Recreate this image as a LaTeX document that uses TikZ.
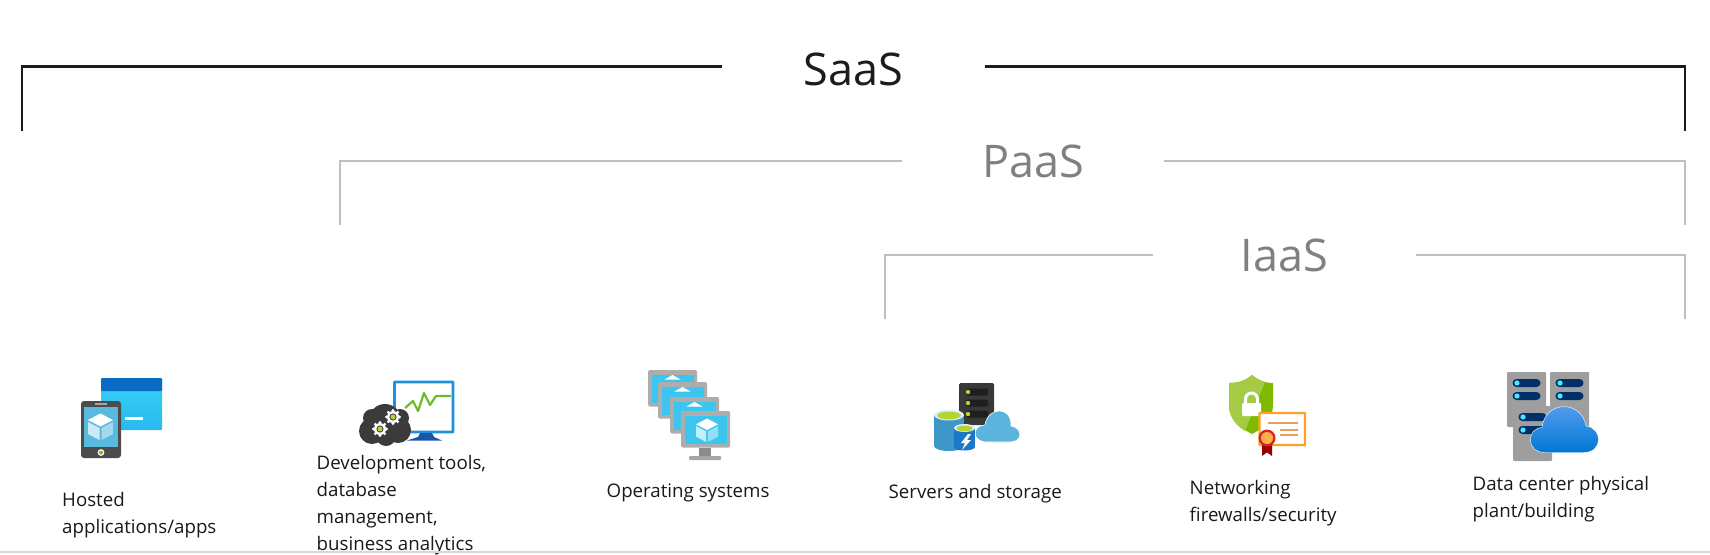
\documentclass[tikz,border=0pt]{standalone}
\usepackage{fontspec}
\setmainfont{Open Sans}
\definecolor{saasline}{HTML}{1C1C1C}
\definecolor{otherline}{HTML}{BFBFBF}
\definecolor{headtext}{HTML}{808080}
\definecolor{skyblue}{HTML}{3CC6EF}
\definecolor{windowtop}{HTML}{32D4F5}
\definecolor{windowlow}{HTML}{2BB8F0}
\definecolor{windowhead}{HTML}{0A6CC4}
\definecolor{phonescreen}{HTML}{5AB9DE}
\definecolor{leafgreen}{HTML}{B4D334}
\definecolor{navybar}{HTML}{003067}
\definecolor{monitorblue}{HTML}{1E90DC}
\definecolor{standblue}{HTML}{1B55A5}
\definecolor{pulsegreen}{HTML}{6CBB2A}
\definecolor{cloudlight}{HTML}{5AB4DC}
\definecolor{bigcyl}{HTML}{3D97C9}
\definecolor{smallcyl}{HTML}{1B78C8}
\definecolor{shielddark}{HTML}{7FBA00}
\definecolor{shieldlight}{HTML}{A5CB45}
\definecolor{certorange}{HTML}{FFA029}
\definecolor{certline}{HTML}{E8A060}
\definecolor{dotcyan}{HTML}{50E6FF}
\definecolor{cloudtop}{HTML}{5EA0EF}
\definecolor{cloudlow}{HTML}{0078D4}
\tikzset{
  tierlabel/.style={minimum height=40pt,inner sep=0pt,font=\fontsize{45}{50}\selectfont,text=headtext},
  itemlabel/.style={anchor=base west,inner sep=0pt,align=left,font=\fontsize{18.7}{27}\selectfont,text=black!90},
  tierline/.style={line width=2.4pt,color=otherline}
}
\newcommand{\cubeglyph}[3]{%
  \begin{scope}[shift={(#1,#2)},scale=#3]
    \fill[white] (0,-13) -- (12.5,-6.5) -- (0,0) -- (-12.5,-6.5) -- cycle;
    \fill[white,opacity=.7] (-12.5,-4.5) -- (-1,1.5) -- (-1,13.5) -- (-12.5,7.5) -- cycle;
    \fill[white,opacity=.45] (12.5,-4.5) -- (1,1.5) -- (1,13.5) -- (12.5,7.5) -- cycle;
  \end{scope}}
\begin{document}
\begin{tikzpicture}[x=1pt,y=-1pt]
  \useasboundingbox (0,0) rectangle (1710,554);
  % tiers
  \node[tierlabel,minimum width=263pt,text=saasline,text height=38pt,text depth=0pt] (saas) at (853.5,66.5) {SaaS};
  \node[tierlabel,minimum width=262pt] (paas) at (1033,161) {PaaS};
  \node[tierlabel,minimum width=263pt] (iaas) at (1284.5,255) {IaaS};
  \coordinate (saasleft) at (22,131);
  \coordinate (saasright) at (1685,131);
  \coordinate (paasleft) at (340,225);
  \coordinate (paasright) at (1685,225);
  \coordinate (iaasleft) at (885,319);
  \coordinate (iaasright) at (1685,319);
  \draw[tierline,color=saasline] (saasleft) |- (saas);
  \draw[tierline,color=saasline] (saasright) |- (saas);
  \draw[tierline] (paasleft) |- (paas);
  \draw[tierline] (paasright) |- (paas);
  \draw[tierline] (iaasleft) |- (iaas);
  \draw[tierline] (iaasright) |- (iaas);
  % labels
  \node[itemlabel] (hosted) at (62,533) {Hosted\\applications/apps};
  \node[itemlabel] (devtools) at (316.5,550) {Development tools,\\database\\management,\\business analytics};
  \node[itemlabel] (opsys) at (606.5,497) {Operating systems};
  \node[itemlabel] (servers) at (888.5,498) {Servers and storage};
  \node[itemlabel] (network) at (1189.5,521) {Networking\\firewalls/security};
  \node[itemlabel] (datacenter) at (1472.5,517) {Data center physical\\plant/building};
  \coordinate (ruleleft) at (0,552);
  \coordinate (ruleright) at (1710,552);
  \draw[line width=1.2pt,color=black!16] (ruleleft) -- (ruleright);
  % apps icon
  \shade[top color=windowtop,bottom color=windowlow,rounded corners=1pt] (101,378) rectangle (162,430);
  \fill[windowhead,rounded corners=1pt] (101,378) rectangle (162,391);
  \fill[white] (125,417) rectangle (143,419.5);
  \fill[color=black!70,rounded corners=3pt] (81,401) rectangle (121,458);
  \fill[phonescreen] (83.5,407) rectangle (118,447);
  \fill[color=black!35] (95,403) rectangle (107,405);
  \fill[white] (101,452.5) circle (3.4pt);
  \fill[leafgreen!80!black] (101,452.5) circle (2pt);
  \cubeglyph{100.5}{426.5}{1}
  % dev tools icon
  \draw[line width=2.6pt,color=monitorblue,fill=white,rounded corners=.5pt] (394.5,382) rectangle (453,432);
  \fill[standblue] (420,433) -- (432,433) -- (434,437) -- (442,440.5) -- (407,440.5) -- (418,437) -- cycle;
  \draw[line width=2.2pt,color=pulsegreen,line join=round] (405,408) -- (413,401) -- (418,411) -- (424,393) -- (430,405) -- (436,396) -- (451,396);
  \foreach \cx/\cy/\cr in {385/420/16,372/431/13,398/430/13,386/436/10,372/418/9,400/418/9}
    \fill[color=black!77] (\cx,\cy) circle (\cr pt);
  \foreach \gx/\gy in {393/417,380/429} {
    \foreach \ang in {0,45,...,315}
      \fill[white] (\gx,\gy) ++(\ang:6.5pt) circle (1.6pt);
    \fill[white] (\gx,\gy) circle (6pt);
    \fill[black!70] (\gx,\gy) circle (3.6pt);
    \fill[leafgreen] (\gx,\gy) circle (2.4pt);
  }
  % operating systems icon
  \foreach \mx/\my in {648/370,658/382,670/397,681/411} {
    \fill[color=black!32,rounded corners=1.5pt] (\mx,\my) rectangle ++(49,36.5);
    \fill[skyblue] (\mx+3.5,\my+4.5) rectangle ++(42,28);
    \fill[white] (\mx+24.5,\my+5) -- ++(8,4.5) -- ++(-16,0) -- cycle;
  }
  \fill[skyblue] (684.5,415.5) rectangle ++(42,28);
  \cubeglyph{707}{430}{.88}
  \fill[color=black!45] (699,447.5) rectangle (711,456);
  \fill[color=black!35,rounded corners=1pt] (689,456) rectangle (721,460);
  % servers icon
  \fill[color=black!78,rounded corners=1.5pt] (959,383) rectangle (994,425);
  \foreach \ry in {392,403,414} {
    \fill[color=black!88,rounded corners=2pt] (966,\ry-3.5) rectangle (988,\ry+3.5);
    \fill[leafgreen] (968,\ry) circle (2.2pt);
  }
  \fill[cloudlight,draw=white,line width=.6pt] (987,442) .. controls (971,442) and (972,425) .. (985,425) .. controls (988,406) and (1012,406) .. (1011,426) .. controls (1023,428) and (1023,442) .. (1010,442) -- cycle;
  \fill[bigcyl] (934,415) rectangle (964,446);
  \fill[bigcyl] (949,446) ellipse (15pt and 5pt);
  \fill[color=cyan!15!white] (949,415) ellipse (15pt and 5.5pt);
  \fill[leafgreen] (949,415.5) ellipse (12pt and 4pt);
  \fill[smallcyl] (954,428) rectangle (975,447);
  \fill[smallcyl] (964.5,447) ellipse (10.5pt and 3.5pt);
  \fill[color=cyan!15!white] (964.5,428) ellipse (10.5pt and 4pt);
  \fill[leafgreen] (964.5,428.5) ellipse (8pt and 3pt);
  \fill[white] (968,434) -- (961,443) -- (965,443) -- (962,450) -- (971,440) -- (967,440) -- (971,434) -- cycle;
  % security icon
  \fill[shielddark] (1252,375) .. controls (1245,381) and (1238,383) .. (1229,383) -- (1229,405) .. controls (1229,420) and (1240,428) .. (1252,434) .. controls (1264,428) and (1273,420) .. (1273,405) -- (1273,383) .. controls (1266,383) and (1259,381) .. (1252,375) -- cycle;
  \begin{scope}
    \clip (1252,375) .. controls (1245,381) and (1238,383) .. (1229,383) -- (1229,405) .. controls (1229,420) and (1240,428) .. (1245,431) -- (1265,382) .. controls (1260,381) and (1256,378) .. (1252,375) -- cycle;
    \fill[shieldlight] (1225,370) rectangle (1275,436);
  \end{scope}
  \draw[white,line width=3pt] (1245.5,404) -- (1245.5,399) arc (180:0:6pt) -- (1257.5,404);
  \fill[white,rounded corners=1pt] (1242,403) rectangle (1261,416);
  \draw[line width=2.4pt,color=certorange,fill=white,rounded corners=.5pt] (1259.5,413) rectangle (1305,445);
  \draw[line width=1.6pt,color=certline] (1268,423) -- (1298,423);
  \draw[line width=1.6pt,color=certline] (1280,430) -- (1298,430);
  \draw[line width=1.6pt,color=certline] (1280,435) -- (1298,435);
  \fill[color=red!60!black] (1262,444) -- (1272,444) -- (1272,456) -- (1267,452.5) -- (1262,456) -- cycle;
  \fill[color=red!80!black!85] (1267,438) circle (8.5pt);
  \fill[color=certorange!85] (1267,438) circle (6pt);
  % data center icon
  \foreach \sx/\sy in {1507/372,1550/372,1513/406} {
    \fill[color=black!38,rounded corners=1pt] (\sx,\sy) rectangle ++(39,55);
    \foreach \ry in {11,24} {
      \fill[navybar,rounded corners=4pt] (\sx+5.5,\sy+\ry-4) rectangle ++(28,8);
      \fill[dotcyan] (\sx+10,\sy+\ry) circle (2.6pt);
    }
  }
  \shade[top color=cloudtop,bottom color=cloudlow,draw=white,line width=.4pt] (1545,452.5) .. controls (1525,452.5) and (1527,428) .. (1542,427.5) .. controls (1545,400) and (1582,400) .. (1586,426) .. controls (1603,428) and (1603,452.5) .. (1584,452.5) -- cycle;
\end{tikzpicture}
\end{document}
